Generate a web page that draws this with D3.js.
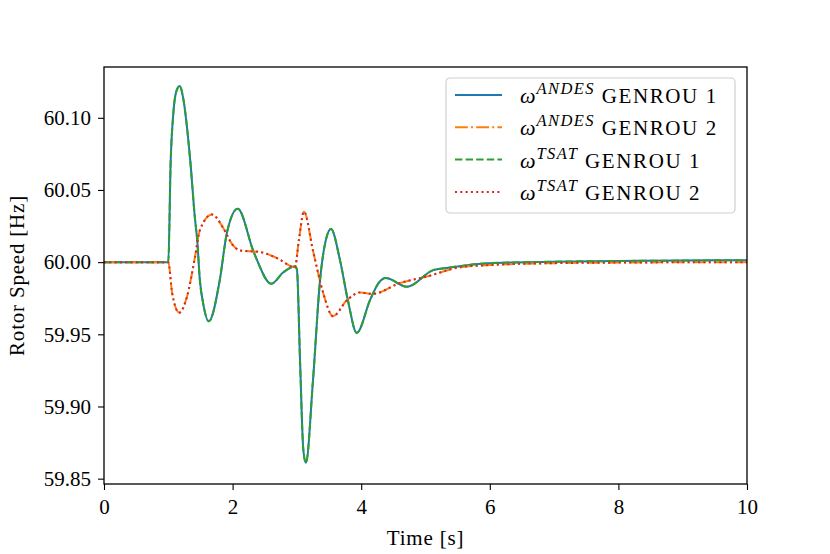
<!DOCTYPE html>
<html>
<head>
<meta charset="UTF-8">
<script src="https://d3js.org/d3.v7.min.js"></script>
<style>
  body { margin: 0; background: #fff; }
  text { font-family: "Liberation Serif", "DejaVu Serif", serif; }
</style>
</head>
<body>
<svg id="chart" width="830" height="554"></svg>
<script>
// GENROU 1 rotor speed (Hz)
const t1 = [0, 1.0, 1.037, 1.078, 1.13, 1.18, 1.23, 1.34, 1.415, 1.45, 1.49, 1.54, 1.63, 1.8, 1.91, 2.08, 2.32, 2.38, 2.6, 2.79, 2.97, 3.0, 3.05, 3.10, 3.14, 3.25, 3.36, 3.46, 3.53, 3.67, 3.8, 3.93, 4.14, 4.27, 4.38, 4.71, 5.12, 5.33, 6, 7, 8, 9, 10];
const w1 = [60, 60, 60.07, 60.103, 60.119, 60.122, 60.114, 60.071, 60.03, 60.015, 59.988, 59.972, 59.959, 59.9875, 60.02, 60.037, 60.008, 60.0014, 59.985, 59.993, 59.997, 59.995, 59.93, 59.87, 59.861, 59.918, 59.9875, 60.017, 60.023, 60.0014, 59.972, 59.951, 59.974, 59.9855, 59.989, 59.983, 59.9945, 59.996, 59.9993, 60.0003, 60.0008, 60.0011, 60.0014];

// GENROU 2 rotor speed (Hz)
const t2 = [0, 1.0, 1.06, 1.17, 1.29, 1.415, 1.49, 1.68, 1.85, 2.0, 2.12, 2.43, 2.69, 2.97, 3.03, 3.11, 3.25, 3.41, 3.56, 3.78, 3.98, 4.18, 4.6, 5.02, 5.54, 6, 7, 8, 10];
const w2 = [60, 60, 59.9785, 59.965, 59.976, 60.0035, 60.022, 60.033, 60.024, 60.012, 60.008, 60.007, 60.0028, 59.9965, 60.015, 60.035, 60.008, 59.9785, 59.9626, 59.9737, 59.979, 59.978, 59.9855, 59.990, 59.9965, 59.998, 59.9993, 59.9997, 60.0];

const xTicks = [0, 2, 4, 6, 8, 10];
const yTicks = [59.85, 59.90, 59.95, 60.00, 60.05, 60.10];

const series = [
  { sup: "ANDES", gen: "GENROU 1", t: t1, w: w1, color: "#1f77b4", dash: null },
  { sup: "ANDES", gen: "GENROU 2", t: t2, w: w2, color: "#ff7f0e", dash: "12.8,3.2,2,3.2" },
  { sup: "TSAT", gen: "GENROU 1", t: t1, w: w1, color: "#2ca02c", dash: "7.4,3.2" },
  { sup: "TSAT", gen: "GENROU 2", t: t2, w: w2, color: "#d62728", dash: "2,3.3" }
];

const svg = d3.select("#chart");
const margin = { left: 104, right: 83, top: 67, bottom: 70 };
const width = 830 - margin.left - margin.right,
      height = 554 - margin.top - margin.bottom;

const x = d3.scaleLinear().domain([0, 10]).range([0, width]);
const y = d3.scaleLinear().domain([59.8463, 60.1352]).range([height, 0]);

const g = svg.append("g").attr("transform", `translate(${margin.left},${margin.top})`);

const line = d3.line()
  .x(d => x(d[0]))
  .y(d => y(d[1]))
  .curve(d3.curveMonotoneX);

g.append("defs").append("clipPath").attr("id", "clip")
  .append("rect").attr("width", width).attr("height", height);

series.forEach(s => {
  g.append("path")
    .datum(s.t.map((t, i) => [t, s.w[i]]))
    .attr("clip-path", "url(#clip)")
    .attr("fill", "none")
    .attr("stroke", s.color)
    .attr("stroke-width", 2)
    .attr("stroke-dasharray", s.dash)
    .attr("d", line);
});

// axes
const xAxis = g.append("g").attr("transform", `translate(0,${height})`)
  .call(d3.axisBottom(x).tickValues(xTicks).tickSize(6).tickPadding(9).tickFormat(d3.format("d")));
const yAxis = g.append("g")
  .call(d3.axisLeft(y).tickValues(yTicks).tickSize(6).tickPadding(7).tickFormat(d3.format(".2f")));
[xAxis, yAxis].forEach(a => {
  a.select(".domain").remove();
  a.selectAll("line").attr("stroke", "#000").attr("stroke-width", 1.1);
  a.selectAll("text").attr("font-size", 21).attr("fill", "#000")
    .style("font-family", '"Liberation Serif", serif');
});
xAxis.selectAll("text").attr("dy", "0.72em");

g.append("rect").attr("width", width).attr("height", height)
  .attr("fill", "none").attr("stroke", "#000").attr("stroke-width", 1.3);

// axis labels
svg.append("text").attr("x", margin.left + width / 2).attr("y", 545)
  .attr("text-anchor", "middle").attr("font-size", 21).attr("letter-spacing", 0.8).text("Time [s]");
svg.append("text")
  .attr("transform", `translate(24,${margin.top + height / 2}) rotate(-90)`)
  .attr("text-anchor", "middle").attr("font-size", 21).attr("letter-spacing", 0.8).text("Rotor Speed [Hz]");

// legend
const lg = svg.append("g").attr("transform", "translate(446,78)");
lg.append("rect").attr("width", 289).attr("height", 135).attr("rx", 4)
  .attr("fill", "#fff").attr("fill-opacity", 0.8)
  .attr("stroke", "#d0d0d0").attr("stroke-width", 1.2);
series.forEach((s, i) => {
  const yy = 17 + i * 32.3;
  lg.append("line").attr("x1", 9).attr("x2", 56).attr("y1", yy).attr("y2", yy)
    .attr("stroke", s.color).attr("stroke-width", 2).attr("stroke-dasharray", s.dash);
  const tx = lg.append("text").attr("x", 74).attr("y", yy + 8).attr("font-size", 21);
  tx.append("tspan").attr("font-style", "italic").attr("font-size", 22).text("ω");
  tx.append("tspan").attr("font-style", "italic").attr("font-size", 16.5)
    .attr("letter-spacing", 1.4).attr("dy", -9).attr("dx", 1).text(s.sup);
  tx.append("tspan").attr("dy", 9).attr("letter-spacing", 1.6).text(" " + s.gen);
});
</script>
</body>
</html>
